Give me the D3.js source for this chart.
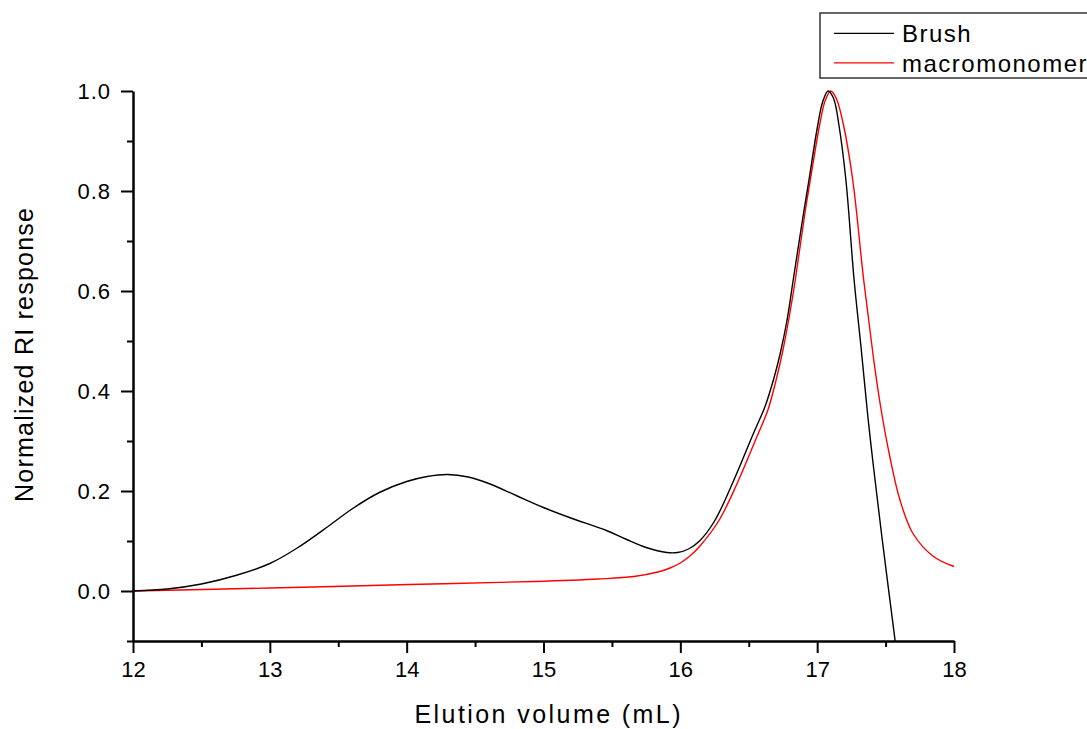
<!DOCTYPE html>
<html>
<head>
<meta charset="utf-8">
<script src="https://cdn.jsdelivr.net/npm/d3@7"></script>
<style>
  html, body { margin: 0; padding: 0; background: #fff; }
  svg { display: block; font-family: "Liberation Sans", Arial, sans-serif; }
</style>
</head>
<body>
<svg id="chart" width="1087" height="729"></svg>
<script>
// ---- data ----
const brushX = [12.0, 12.25, 12.5, 12.75, 13.0, 13.2, 13.44, 13.6, 13.8, 14.0, 14.15, 14.3, 14.45, 14.6, 14.8, 15.0, 15.2, 15.46, 15.6, 15.75, 15.9, 15.98, 16.06, 16.14, 16.25, 16.385, 16.534, 16.619, 16.68, 16.73, 16.78, 16.825, 16.90, 16.94, 17.0, 17.04, 17.08, 17.12, 17.16, 17.21, 17.27, 17.32, 17.37, 17.41, 17.47, 17.57];
const brushY = [0.000, 0.004, 0.014, 0.031, 0.055, 0.086, 0.132, 0.164, 0.197, 0.219, 0.229, 0.233, 0.228, 0.215, 0.191, 0.167, 0.146, 0.121, 0.104, 0.087, 0.077, 0.077, 0.084, 0.100, 0.140, 0.218, 0.315, 0.369, 0.422, 0.475, 0.542, 0.622, 0.755, 0.822, 0.925, 0.978, 1.0, 0.985, 0.93, 0.822, 0.622, 0.489, 0.350, 0.252, 0.115, -0.1];
const macroX = [12.0, 13.0, 14.02, 14.93, 15.4, 15.66, 15.85, 15.925, 16.0, 16.07, 16.14, 16.28, 16.41, 16.56, 16.64, 16.70, 16.75, 16.80, 16.84, 16.91, 16.95, 17.02, 17.06, 17.10, 17.14, 17.19, 17.26, 17.34, 17.41, 17.46, 17.53, 17.605, 17.70, 17.85, 18.0];
const macroY = [0.000, 0.006, 0.013, 0.019, 0.024, 0.029, 0.039, 0.046, 0.056, 0.070, 0.089, 0.140, 0.212, 0.309, 0.362, 0.422, 0.482, 0.555, 0.622, 0.755, 0.822, 0.935, 0.982, 1.0, 0.985, 0.935, 0.822, 0.622, 0.469, 0.375, 0.270, 0.182, 0.115, 0.069, 0.049];
const seriesNames = ["Brush", "macromonomer"];
const seriesColors = ["#000000", "#ff0000"];
const xTicks = [12, 13, 14, 15, 16, 17, 18];
const xMinorTicks = [12.5, 13.5, 14.5, 15.5, 16.5, 17.5];
const yTicks = [0.0, 0.2, 0.4, 0.6, 0.8, 1.0];
const yMinorTicks = [-0.1, 0.1, 0.3, 0.5, 0.7, 0.9];
const xTitle = "Elution volume (mL)";
const yTitle = "Normalized RI response";

// ---- layout ----
const mLeft = 133, mRight = 954, mTop = 91, mBottom = 641;
const svg = d3.select("#chart");
const x = d3.scaleLinear().domain([12, 18]).range([mLeft, mRight]);
const y = d3.scaleLinear().domain([-0.1, 1.0]).range([mBottom, mTop]);

svg.append("defs").append("clipPath").attr("id", "clip")
  .append("rect").attr("x", mLeft).attr("y", mTop - 5).attr("width", mRight - mLeft + 2).attr("height", mBottom - mTop + 5);

const line = d3.line().x(d => x(d[0])).y(d => y(d[1])).curve(d3.curveCatmullRom.alpha(0.5));
const series = [
  d3.zip(brushX, brushY),
  d3.zip(macroX, macroY)
];
const plot = svg.append("g").attr("clip-path", "url(#clip)");
[1, 0].forEach(i => {
  plot.append("path").datum(series[i])
    .attr("d", line).attr("fill", "none")
    .attr("stroke", seriesColors[i]).attr("stroke-width", 1.4);
});

// ---- axes ----
function styleAxis(g) {
  g.select(".domain").attr("stroke", "#000").attr("stroke-width", 2.5);
  g.selectAll(".tick line").attr("stroke", "#000").attr("stroke-width", 2);
  g.selectAll(".tick text").attr("fill", "#000").attr("font-size", 22)
    .attr("font-family", "'Liberation Sans', Arial, sans-serif");
}
const xMinor = svg.append("g").attr("transform", `translate(0,${mBottom})`)
  .call(d3.axisBottom(x).tickValues(xMinorTicks).tickSize(6).tickSizeOuter(0).tickFormat(""));
styleAxis(xMinor); xMinor.select(".domain").remove();
const xAxis = svg.append("g").attr("transform", `translate(0,${mBottom})`)
  .call(d3.axisBottom(x).tickValues(xTicks).tickSize(12).tickSizeOuter(0).tickPadding(8).tickFormat(d3.format("d")));
styleAxis(xAxis);

const yMinor = svg.append("g").attr("transform", `translate(${mLeft},0)`)
  .call(d3.axisLeft(y).tickValues(yMinorTicks).tickSize(6).tickSizeOuter(0).tickFormat(""));
styleAxis(yMinor); yMinor.select(".domain").remove();
const yAxis = svg.append("g").attr("transform", `translate(${mLeft},0)`)
  .call(d3.axisLeft(y).tickValues(yTicks).tickSize(12).tickSizeOuter(0).tickPadding(10).tickFormat(d3.format(".1f")));
styleAxis(yAxis);
yAxis.selectAll(".tick text").attr("letter-spacing", "1px");

// ---- titles ----
svg.append("text").attr("x", (mLeft + mRight) / 2 + 4).attr("y", 723)
  .attr("text-anchor", "middle").attr("font-size", 25)
  .attr("textLength", 266).attr("lengthAdjust", "spacing")
  .text(xTitle);
svg.append("text").attr("transform", `translate(33,355) rotate(-90)`)
  .attr("text-anchor", "middle").attr("font-size", 25)
  .attr("textLength", 294).attr("lengthAdjust", "spacing")
  .text(yTitle);

// ---- legend ----
const lg = svg.append("g");
lg.append("rect").attr("x", 820).attr("y", 13).attr("width", 300).attr("height", 65)
  .attr("fill", "#fff").attr("stroke", "#333").attr("stroke-width", 1.5);
seriesNames.forEach((name, i) => {
  const ly = 33.3 + i * 29.5;
  lg.append("line").attr("x1", 834).attr("x2", 894).attr("y1", ly).attr("y2", ly)
    .attr("stroke", seriesColors[i]).attr("stroke-width", 1.2);
  lg.append("text").attr("x", 902).attr("y", ly + 9).attr("font-size", 24)
    .attr("letter-spacing", "1.5px").attr("fill", "#000").text(name);
});
</script>
</body>
</html>
